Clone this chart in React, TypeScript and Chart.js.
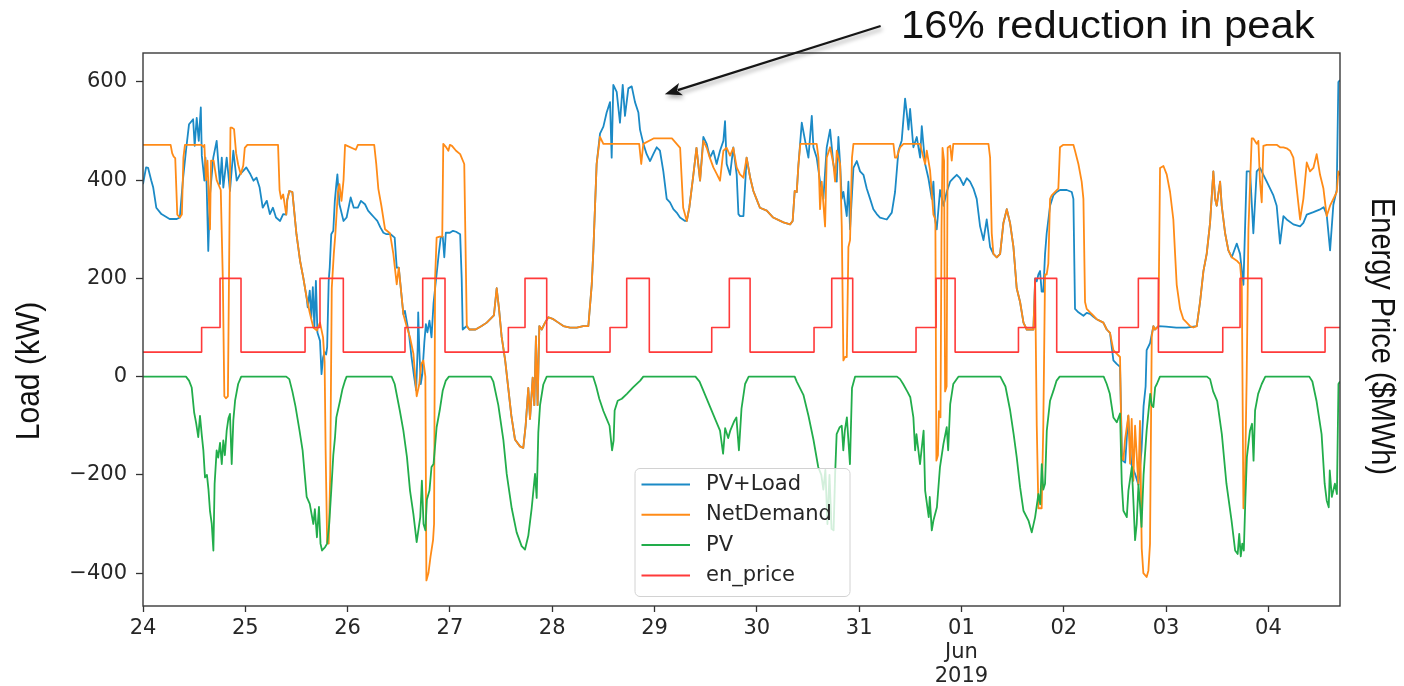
import React, { useEffect, useRef } from 'react';
import { Chart, registerables } from 'chart.js';

Chart.register(...registerables);

// ---------- data (x = days since 24 May 2019 00:00, y = kW or $/MWh) ----------
const X_TICK_LABELS = ['24', '25', '26', '27', '28', '29', '30', '31', '01', '02', '03', '04'];
const MONTH_LABEL_INDEX = 8;
const MONTH_LABEL_LINES = ['Jun', '2019'];
const X_MIN = 0;
const X_MAX = 11.7;
const Y_MIN = -467;
const Y_MAX = 659;
const Y_STEP = 200;

const SERIES_NAMES = ['PV+Load', 'NetDemand', 'PV', 'en_price'];

const PV_LOAD: [number, number][] = [
  [0.00,392],[0.03,426],[0.05,425],[0.08,400],[0.10,385],[0.13,344],[0.18,331],[0.26,321],[0.33,321],[0.36,324],
  [0.39,400],[0.42,460],[0.45,514],[0.49,524],[0.505,470],[0.525,527],[0.545,480],[0.565,548],[0.575,450],[0.59,420],
  [0.60,399],[0.61,446],[0.622,392],[0.638,256],[0.655,371],[0.687,446],[0.72,480],[0.752,392],[0.77,446],[0.785,385],
  [0.818,446],[0.85,378],[0.883,460],[0.916,399],[0.948,412],[0.98,419],[1.01,426],[1.05,412],[1.08,399],[1.11,405],
  [1.14,385],[1.17,344],[1.21,358],[1.24,331],[1.27,344],[1.30,324],[1.34,317],[1.37,331],[1.40,330],[1.41,360],
  [1.43,378],[1.46,376],[1.50,290],[1.535,236],[1.567,201],[1.60,160],[1.61,141],[1.63,175],[1.645,120],[1.66,182],
  [1.675,100],[1.69,195],[1.705,90],[1.73,73],[1.745,5],[1.76,39],[1.775,50],[1.79,45],[1.80,60],[1.815,195],
  [1.825,222],[1.84,290],[1.86,297],[1.875,358],[1.89,392],[1.90,412],[1.92,351],[1.96,317],[1.99,324],[2.03,365],
  [2.06,344],[2.10,344],[2.13,358],[2.17,351],[2.20,338],[2.23,331],[2.26,324],[2.29,317],[2.32,304],[2.35,293],
  [2.38,290],[2.42,290],[2.46,283],[2.48,222],[2.50,222],[2.545,127],[2.56,134],[2.58,110],[2.60,87],[2.625,39],
  [2.65,0],[2.67,-28],[2.685,60],[2.69,131],[2.70,60],[2.715,-15],[2.73,5],[2.75,70],[2.765,107],[2.78,90],
  [2.80,114],[2.82,80],[2.84,150],[2.87,209],[2.89,249],[2.91,283],[2.93,285],[2.945,243],[2.96,293],[3.00,293],
  [3.03,297],[3.06,295],[3.10,290],[3.115,200],[3.125,96],[3.165,103],[3.19,96],[3.25,96],[3.31,103],[3.36,110],
  [3.43,125],[3.457,180],[3.48,138],[3.505,82],[3.54,33],[3.57,-23],[3.60,-79],[3.636,-128],[3.685,-142],[3.717,-145],
  [3.74,-100],[3.766,-23],[3.783,-86],[3.809,-2],[3.825,-58],[3.841,82],[3.857,-58],[3.874,103],[3.897,96],[3.93,110],
  [3.962,121],[4.011,117],[4.06,110],[4.109,103],[4.174,100],[4.24,100],[4.303,103],[4.353,103],[4.386,187],[4.402,257],
  [4.434,433],[4.467,495],[4.50,509],[4.532,538],[4.565,559],[4.581,446],[4.597,594],[4.63,580],[4.662,517],[4.689,594],
  [4.711,531],[4.744,587],[4.777,591],[4.809,559],[4.842,538],[4.858,503],[4.891,474],[4.923,453],[4.956,439],[4.988,453],
  [5.021,467],[5.053,460],[5.086,418],[5.119,362],[5.151,355],[5.184,341],[5.216,334],[5.249,324],[5.298,317],[5.315,317],
  [5.34,344],[5.38,412],[5.41,466],[5.445,399],[5.477,488],[5.51,474],[5.542,446],[5.575,460],[5.607,433],[5.64,460],
  [5.673,480],[5.689,520],[5.705,433],[5.738,411],[5.77,467],[5.803,411],[5.82,331],[5.836,327],[5.869,327],[5.90,446],
  [5.935,405],[5.966,378],[6.00,360],[6.03,344],[6.097,338],[6.16,324],[6.26,314],[6.325,310],[6.35,317],[6.37,378],
  [6.39,376],[6.406,430],[6.439,517],[6.471,481],[6.504,446],[6.537,531],[6.553,467],[6.585,446],[6.618,397],[6.65,362],
  [6.683,467],[6.716,503],[6.748,433],[6.781,397],[6.797,488],[6.814,433],[6.83,362],[6.846,376],[6.879,327],[6.895,397],
  [6.911,300],[6.944,425],[6.977,439],[7.009,418],[7.042,411],[7.074,383],[7.107,362],[7.139,341],[7.172,331],[7.204,324],
  [7.27,320],[7.319,334],[7.351,376],[7.384,460],[7.416,481],[7.449,566],[7.465,538],[7.482,503],[7.498,545],[7.53,467],
  [7.563,488],[7.596,446],[7.612,510],[7.645,433],[7.677,404],[7.71,362],[7.726,397],[7.742,320],[7.758,300],[7.791,380],
  [7.824,348],[7.856,376],[7.889,397],[7.921,404],[7.954,411],[7.986,404],[8.019,390],[8.052,404],[8.084,397],[8.117,383],
  [8.149,362],[8.182,306],[8.215,278],[8.247,320],[8.28,264],[8.312,250],[8.345,243],[8.378,250],[8.41,313],[8.443,341],
  [8.475,313],[8.508,264],[8.54,180],[8.573,152],[8.606,110],[8.638,96],[8.703,96],[8.72,200],[8.736,194],[8.752,208],
  [8.768,215],[8.784,173],[8.80,173],[8.817,250],[8.833,292],[8.866,348],[8.898,369],[8.931,376],[8.963,380],[9.029,380],
  [9.078,376],[9.094,362],[9.11,138],[9.143,131],[9.192,124],[9.224,130],[9.257,128],[9.29,122],[9.322,117],[9.387,110],
  [9.42,96],[9.452,89],[9.485,33],[9.517,26],[9.55,20],[9.57,-170],[9.60,-175],[9.63,-80],[9.66,-178],[9.70,-200],
  [9.73,-220],[9.76,-150],[9.78,-60],[9.80,-20],[9.81,54],[9.843,68],[9.876,103],[9.892,96],[9.925,103],[10.0,102],
  [10.1,100],[10.2,100],[10.3,103],[10.332,152],[10.365,215],[10.397,250],[10.43,313],[10.462,418],[10.479,362],[10.495,348],
  [10.528,397],[10.544,348],[10.577,292],[10.609,257],[10.642,243],[10.691,271],[10.723,250],[10.756,187],[10.788,418],[10.821,418],
  [10.853,292],[10.886,418],[10.918,425],[10.951,411],[10.984,397],[11.049,369],[11.081,348],[11.114,271],[11.147,327],[11.179,320],
  [11.244,310],[11.31,306],[11.342,313],[11.375,330],[11.44,335],[11.50,340],[11.54,345],[11.57,330],[11.603,257],[11.635,350],
  [11.668,380],[11.684,600],[11.70,604],
];

const NET_DEMAND: [number, number][] = [
  [0.00,472],[0.27,472],[0.285,455],[0.30,448],[0.315,445],[0.335,330],[0.36,324],[0.38,330],[0.395,446],[0.41,472],
  [0.57,472],[0.59,468],[0.60,472],[0.615,400],[0.63,440],[0.655,300],[0.665,440],[0.69,440],[0.72,400],[0.76,380],
  [0.78,200],[0.795,-40],[0.81,-44],[0.83,-40],[0.845,300],[0.855,507],[0.87,507],[0.89,504],[0.91,455],[0.93,432],
  [0.955,412],[0.98,430],[0.995,466],[1.02,472],[1.32,472],[1.335,380],[1.35,362],[1.37,371],[1.40,330],[1.41,360],
  [1.43,378],[1.46,376],[1.50,290],[1.535,236],[1.567,201],[1.60,160],[1.63,130],[1.665,100],[1.70,94],[1.73,110],
  [1.76,80],[1.775,30],[1.785,-150],[1.80,-338],[1.815,-340],[1.83,-200],[1.845,180],[1.865,250],[1.88,290],[1.905,376],
  [1.92,392],[1.94,358],[1.96,400],[1.975,472],[2.08,462],[2.10,472],[2.26,472],[2.28,433],[2.30,383],[2.33,348],
  [2.366,300],[2.414,292],[2.447,250],[2.48,188],[2.50,222],[2.545,127],[2.58,100],[2.61,80],[2.643,47],[2.675,-40],
  [2.70,-16],[2.72,26],[2.74,33],[2.76,0],[2.77,-415],[2.79,-400],[2.81,-367],[2.835,-333],[2.845,-300],[2.855,200],
  [2.87,283],[2.90,285],[2.925,285],[2.935,474],[2.96,468],[2.985,460],[3.00,472],[3.02,470],[3.06,460],[3.10,453],
  [3.14,433],[3.165,103],[3.19,96],[3.25,96],[3.31,103],[3.36,110],[3.43,125],[3.457,180],[3.48,138],[3.505,82],
  [3.54,33],[3.57,-23],[3.60,-79],[3.636,-128],[3.685,-142],[3.717,-145],[3.74,-100],[3.766,-23],[3.783,-86],[3.809,-2],
  [3.825,-58],[3.841,82],[3.857,-58],[3.874,103],[3.897,96],[3.93,110],[3.962,121],[4.011,117],[4.06,110],[4.109,103],
  [4.174,100],[4.24,100],[4.303,103],[4.353,103],[4.386,187],[4.402,257],[4.434,433],[4.467,488],[4.50,474],[4.85,474],
  [4.87,433],[4.89,474],[4.99,485],[5.17,485],[5.25,466],[5.28,344],[5.315,317],[5.34,344],[5.38,412],[5.41,466],
  [5.445,399],[5.477,480],[5.51,466],[5.54,446],[5.575,426],[5.61,412],[5.64,399],[5.673,460],[5.705,466],[5.738,450],
  [5.77,466],[5.803,426],[5.835,412],[5.868,405],[5.90,446],[5.935,405],[5.966,378],[6.00,360],[6.03,344],[6.097,338],
  [6.16,324],[6.26,314],[6.325,310],[6.35,317],[6.37,378],[6.39,376],[6.406,430],[6.425,474],[6.585,474],[6.602,446],
  [6.618,341],[6.634,397],[6.667,306],[6.683,446],[6.716,467],[6.748,433],[6.765,397],[6.781,460],[6.814,433],[6.83,306],
  [6.846,33],[6.862,40],[6.879,40],[6.895,264],[6.911,278],[6.93,446],[6.944,474],[7.335,474],[7.35,446],[7.367,446],
  [7.40,467],[7.433,474],[7.596,474],[7.628,446],[7.645,433],[7.661,460],[7.693,420],[7.726,330],[7.745,320],[7.755,-171],
  [7.77,-160],[7.78,-70],[7.795,-83],[7.805,300],[7.815,466],[7.83,440],[7.84,-30],[7.855,-20],[7.865,466],[7.89,470],
  [7.905,440],[7.92,474],[8.264,474],[8.28,446],[8.296,292],[8.312,250],[8.345,243],[8.378,250],[8.41,313],[8.443,341],
  [8.475,313],[8.508,264],[8.54,180],[8.573,152],[8.606,110],[8.638,96],[8.703,96],[8.72,194],[8.736,-100],[8.752,-268],
  [8.784,-268],[8.80,-100],[8.817,208],[8.833,208],[8.849,230],[8.866,362],[8.882,369],[8.915,376],[8.947,383],[8.963,467],
  [8.996,472],[9.094,472],[9.11,460],[9.143,433],[9.175,397],[9.192,362],[9.208,152],[9.224,138],[9.257,131],[9.29,124],
  [9.322,117],[9.387,110],[9.42,96],[9.452,89],[9.485,54],[9.517,47],[9.55,40],[9.566,-163],[9.583,-170],[9.599,-128],
  [9.632,-79],[9.648,-177],[9.664,-86],[9.68,-212],[9.697,-100],[9.729,-220],[9.745,-90],[9.762,-350],[9.778,-400],[9.81,-408],
  [9.827,-395],[9.843,-340],[9.86,82],[9.876,103],[9.892,96],[9.925,103],[9.941,425],[9.974,429],[10.006,412],[10.039,376],
  [10.071,320],[10.088,250],[10.104,187],[10.137,138],[10.169,117],[10.202,110],[10.234,103],[10.267,100],[10.3,103],[10.332,152],
  [10.365,215],[10.397,250],[10.43,313],[10.462,418],[10.479,362],[10.495,348],[10.528,397],[10.544,348],[10.577,292],[10.609,257],
  [10.642,243],[10.691,236],[10.723,229],[10.74,187],[10.756,-268],[10.772,-200],[10.788,0],[10.805,300],[10.837,485],[10.853,485],
  [10.886,474],[10.902,480],[10.918,397],[10.935,355],[10.951,470],[10.984,472],[11.081,472],[11.114,467],[11.147,467],[11.179,465],
  [11.212,460],[11.244,446],[11.277,383],[11.31,320],[11.342,362],[11.375,436],[11.407,418],[11.44,425],[11.472,453],[11.505,411],
  [11.538,383],[11.57,327],[11.603,348],[11.635,362],[11.668,376],[11.684,418],[11.70,410],
];

const PV: [number, number][] = [
  [0,0],[0.42,0],[0.45,-8],[0.476,-22],[0.50,-73],[0.52,-95],[0.54,-123],[0.557,-80],[0.575,-120],[0.59,-150],
  [0.606,-205],[0.625,-200],[0.64,-230],[0.655,-274],[0.672,-300],[0.688,-354],[0.70,-218],[0.72,-150],[0.735,-165],[0.753,-135],
  [0.77,-178],[0.785,-130],[0.80,-160],[0.818,-110],[0.835,-85],[0.85,-76],[0.867,-178],[0.883,-89],[0.90,-49],[0.93,-15],
  [0.96,0],
  [1.40,0],[1.43,-5],[1.46,-30],[1.49,-60],[1.53,-110],[1.56,-150],[1.60,-245],[1.63,-259],[1.665,-300],[1.68,-270],
  [1.70,-327],[1.72,-265],[1.735,-340],[1.75,-354],[1.78,-347],[1.80,-340],[1.82,-300],[1.84,-232],[1.86,-160],[1.877,-123],
  [1.89,-83],[1.926,-49],[1.95,-25],[1.975,-8],[1.99,0],
  [2.43,0],[2.46,-15],[2.51,-69],[2.545,-110],[2.58,-164],[2.61,-232],[2.643,-280],[2.675,-337],[2.71,-286],[2.726,-212],
  [2.742,-300],[2.76,-313],[2.775,-250],[2.80,-232],[2.82,-184],[2.84,-178],[2.87,-103],[2.90,-69],[2.93,-28],[2.96,-8],
  [2.99,0],
  [3.40,0],[3.424,-10],[3.473,-58],[3.522,-128],[3.555,-198],[3.604,-268],[3.652,-317],[3.701,-345],[3.734,-352],[3.766,-324],
  [3.799,-268],[3.832,-198],[3.848,-247],[3.864,-114],[3.881,-58],[3.913,-16],[3.946,0],
  [4.40,0],[4.43,-20],[4.46,-45],[4.50,-70],[4.53,-85],[4.56,-100],[4.585,-150],[4.60,-130],[4.61,-69],[4.64,-49],
  [4.68,-45],[4.73,-35],[4.79,-22],[4.86,-8],[4.89,0],
  [5.40,0],[5.44,-10],[5.48,-30],[5.54,-60],[5.60,-90],[5.64,-110],[5.67,-157],[5.69,-105],[5.72,-125],[5.74,-110],
  [5.78,-90],[5.80,-83],[5.825,-150],[5.85,-65],[5.885,-15],[5.92,0],
  [6.37,0],[6.39,-10],[6.455,-37],[6.504,-79],[6.553,-128],[6.60,-184],[6.63,-200],[6.65,-230],[6.67,-190],[6.69,-300],
  [6.71,-200],[6.73,-310],[6.75,-313],[6.765,-200],[6.78,-117],[6.81,-103],[6.83,-100],[6.845,-150],[6.86,-110],[6.88,-83],
  [6.91,-178],[6.93,-23],[6.96,0],
  [7.37,0],[7.40,-5],[7.43,-15],[7.47,-30],[7.50,-42],[7.53,-83],[7.547,-150],[7.56,-117],[7.595,-178],[7.63,-110],
  [7.645,-232],[7.68,-286],[7.69,-245],[7.71,-313],[7.726,-293],[7.76,-266],[7.79,-184],[7.824,-137],[7.856,-103],[7.87,-150],
  [7.89,-56],[7.92,-15],[7.97,0],
  [8.38,0],[8.43,-20],[8.476,-69],[8.51,-117],[8.54,-164],[8.573,-225],[8.606,-273],[8.655,-293],[8.687,-317],[8.72,-286],
  [8.752,-239],[8.77,-260],[8.785,-178],[8.80,-230],[8.817,-218],[8.834,-110],[8.866,-49],[8.90,-28],[8.93,-8],[8.96,0],
  [9.39,0],[9.42,-15],[9.45,-35],[9.485,-83],[9.518,-93],[9.55,-75],[9.567,-218],[9.583,-273],[9.616,-286],[9.632,-232],
  [9.665,-184],[9.68,-250],[9.697,-333],[9.713,-300],[9.73,-220],[9.745,-260],[9.76,-306],[9.78,-200],[9.81,-110],[9.845,-35],
  [9.86,-58],[9.876,-62],[9.893,-22],[9.91,-15],[9.94,0],
  [10.40,0],[10.43,-5],[10.46,-30],[10.50,-50],[10.545,-117],[10.59,-218],[10.64,-293],[10.675,-354],[10.70,-361],[10.715,-320],
  [10.73,-366],[10.745,-340],[10.76,-354],[10.775,-250],[10.79,-164],[10.82,-110],[10.84,-96],[10.855,-171],[10.87,-69],[10.90,-35],
  [10.935,-15],[10.97,0],
  [11.40,0],[11.43,-10],[11.47,-49],[11.52,-117],[11.55,-218],[11.57,-252],[11.59,-266],[11.60,-191],[11.62,-245],[11.65,-218],
  [11.67,-239],[11.685,-15],[11.70,-10],
];

// energy price: [time the price changes, new price]
const EN_PRICE: [number, number][] = [
  [0,50],[0.573,100],[0.753,200],[0.958,50],[1.584,100],[1.73,200],[1.958,50],[2.561,100],[2.734,200],[2.952,50],
  [3.571,100],[3.734,200],[3.946,50],[4.565,100],[4.728,200],[4.949,50],[5.559,100],[5.731,200],[5.934,50],[6.559,100],
  [6.732,200],[6.937,50],[7.556,100],[7.752,200],[7.938,50],[8.557,100],[8.72,200],[8.931,50],[9.54,100],[9.729,200],
  [9.925,50],[10.554,100],[10.723,200],[10.935,50],[11.554,100],[11.70,100],
];

const ANNOTATION = {
  text: '16% reduction in peak',
  tipDay: 5.10, tipKW: 575,
  tailDay: 7.21, tailKW: 714,
  textDay: 7.41, textKW: 690,
};

const LEFT_TITLE = 'Load (kW)';
const RIGHT_TITLE = 'Energy Price ($MWh)';

// ---------- styling ----------
const COLORS = ['#1b8ac6', '#ff8b17', '#22ad4b', '#ff3a3a'];
const TICK_FONT = { family: '"DejaVu Sans", sans-serif', size: 21, lineHeight: 1.15 };
const TEXT_COLOR = '#262626';

const toXY = (arr: [number, number][]) => arr.map(([x, y]) => ({ x, y }));

function roundRectPath(ctx: CanvasRenderingContext2D, x: number, y: number, w: number, h: number, r: number) {
  ctx.beginPath();
  ctx.moveTo(x + r, y);
  ctx.lineTo(x + w - r, y);
  ctx.arcTo(x + w, y, x + w, y + r, r);
  ctx.lineTo(x + w, y + h - r);
  ctx.arcTo(x + w, y + h, x + w - r, y + h, r);
  ctx.lineTo(x + r, y + h);
  ctx.arcTo(x, y + h, x, y + h - r, r);
  ctx.lineTo(x, y + r);
  ctx.arcTo(x, y, x + r, y, r);
  ctx.closePath();
}

const overlayPlugin = {
  id: 'overlay',
  afterDraw(chart: any) {
    const { ctx, chartArea: a, scales } = chart;
    const xs = scales.x;
    const ys = scales.y;
    ctx.save();

    // frame (all four spines)
    ctx.strokeStyle = '#3a3a3a';
    ctx.lineWidth = 1.4;
    ctx.strokeRect(a.left, a.top, a.right - a.left, a.bottom - a.top);

    // legend
    const lx = a.left + 492;
    const ly = a.top + 415.5;
    const lw = 215;
    const lh = 128;
    roundRectPath(ctx, lx, ly, lw, lh, 5);
    ctx.fillStyle = 'rgba(255,255,255,0.8)';
    ctx.fill();
    ctx.strokeStyle = '#d2d2d2';
    ctx.lineWidth = 1;
    ctx.stroke();
    ctx.font = '21px "DejaVu Sans", sans-serif';
    ctx.textAlign = 'left';
    ctx.textBaseline = 'middle';
    chart.data.datasets.forEach((ds: any, i: number) => {
      const y = ly + 16 + i * 30.3;
      ctx.strokeStyle = ds.borderColor;
      ctx.lineWidth = 2;
      ctx.beginPath();
      ctx.moveTo(lx + 6.5, y);
      ctx.lineTo(lx + 55, y);
      ctx.stroke();
      ctx.fillStyle = TEXT_COLOR;
      ctx.fillText(ds.label, lx + 71, y);
    });

    // axis titles
    const midY = (a.top + a.bottom) / 2;
    ctx.fillStyle = '#111';
    ctx.textAlign = 'center';
    ctx.textBaseline = 'alphabetic';
    ctx.font = '30px "Liberation Sans", Arial, sans-serif';
    ctx.save();
    ctx.translate(a.left - 104, midY + 41.5);
    ctx.scale(1.12, 1);
    ctx.rotate(-Math.PI / 2);
    ctx.fillText(LEFT_TITLE, 0, 0);
    ctx.restore();
    ctx.font = '29px "Liberation Sans", Arial, sans-serif';
    ctx.save();
    ctx.translate(a.right + 32, midY + 7);
    ctx.scale(1.12, 1);
    ctx.rotate(Math.PI / 2);
    ctx.fillText(RIGHT_TITLE, 0, 0);
    ctx.restore();

    // annotation arrow
    const tipX = xs.getPixelForValue(ANNOTATION.tipDay);
    const tipY = ys.getPixelForValue(ANNOTATION.tipKW);
    const tailX = xs.getPixelForValue(ANNOTATION.tailDay);
    const tailY = ys.getPixelForValue(ANNOTATION.tailKW);
    const ang = Math.atan2(tipY - tailY, tipX - tailX);
    const headLen = 17;
    const headHalf = 6.5;
    const c = Math.cos(ang);
    const s = Math.sin(ang);
    ctx.save();
    ctx.shadowColor = 'rgba(0,0,0,0.35)';
    ctx.shadowBlur = 4;
    ctx.shadowOffsetX = 1.5;
    ctx.shadowOffsetY = 3;
    ctx.strokeStyle = '#161616';
    ctx.fillStyle = '#161616';
    ctx.lineWidth = 2.2;
    ctx.beginPath();
    ctx.moveTo(tailX, tailY);
    ctx.lineTo(tipX - c * headLen * 0.8, tipY - s * headLen * 0.8);
    ctx.stroke();
    ctx.beginPath();
    ctx.moveTo(tipX, tipY);
    ctx.lineTo(tipX - headLen * c + headHalf * s, tipY - headLen * s - headHalf * c);
    ctx.lineTo(tipX - headLen * 0.75 * c, tipY - headLen * 0.75 * s);
    ctx.lineTo(tipX - headLen * c - headHalf * s, tipY - headLen * s + headHalf * c);
    ctx.closePath();
    ctx.fill();
    ctx.restore();

    // annotation text
    ctx.font = '38px "Liberation Sans", Arial, sans-serif';
    ctx.fillStyle = '#111';
    ctx.textAlign = 'left';
    ctx.textBaseline = 'alphabetic';
    ctx.save();
    ctx.translate(xs.getPixelForValue(ANNOTATION.textDay), ys.getPixelForValue(ANNOTATION.textKW));
    ctx.scale(1.1, 1);
    ctx.fillText(ANNOTATION.text, 0, 0);
    ctx.restore();

    ctx.restore();
  },
};

export default function App() {
  const canvasRef = useRef<HTMLCanvasElement | null>(null);

  useEffect(() => {
    const canvas = canvasRef.current;
    if (!canvas) return;
    const seriesData = [PV_LOAD, NET_DEMAND, PV, EN_PRICE];
    const drawOrder = [3, 2, 1, 0];
    const chart = new Chart(canvas, {
      type: 'line',
      data: {
        datasets: seriesData.map((arr, i) => ({
          label: SERIES_NAMES[i],
          data: toXY(arr),
          borderColor: COLORS[i],
          backgroundColor: COLORS[i],
          borderWidth: i === 3 ? 1.6 : 1.8,
          pointRadius: 0,
          tension: 0,
          fill: false,
          borderJoinStyle: 'round',
          stepped: i === 3 ? 'before' : false,
          order: drawOrder[i],
        })),
      },
      options: {
        responsive: false,
        animation: false,
        events: [],
        layout: { padding: { left: 0, right: 64, top: 53, bottom: 0 } },
        plugins: {
          legend: { display: false },
          tooltip: { enabled: false },
          title: { display: false },
        },
        scales: {
          x: {
            type: 'linear',
            min: X_MIN,
            max: X_MAX,
            afterFit: (scale: any) => { scale.height = 80; },
            border: { display: false },
            grid: {
              display: true,
              drawOnChartArea: false,
              drawTicks: true,
              tickLength: 6,
              tickColor: '#333',
              tickWidth: 1.3,
            },
            ticks: {
              stepSize: 1,
              includeBounds: false,
              autoSkip: false,
              maxRotation: 0,
              minRotation: 0,
              padding: 4,
              color: TEXT_COLOR,
              font: TICK_FONT,
              callback: (value: any) => {
                const i = Math.round(Number(value));
                const lab = X_TICK_LABELS[i] ?? '';
                return i === MONTH_LABEL_INDEX ? [lab, ...MONTH_LABEL_LINES] : lab;
              },
            },
          },
          y: {
            type: 'linear',
            min: Y_MIN,
            max: Y_MAX,
            afterFit: (scale: any) => { scale.width = 143; },
            border: { display: false },
            grid: {
              display: true,
              drawOnChartArea: false,
              drawTicks: true,
              tickLength: 7,
              tickColor: '#333',
              tickWidth: 1.3,
            },
            ticks: {
              stepSize: Y_STEP,
              includeBounds: false,
              padding: 9,
              color: TEXT_COLOR,
              font: TICK_FONT,
              callback: (value: any) => {
                const v = Number(value);
                return v < 0 ? '\u2212' + Math.abs(v) : String(v);
              },
            },
          },
        },
      } as any,
      plugins: [overlayPlugin],
    } as any);
    return () => chart.destroy();
  }, []);

  return (
    <div style={{ position: 'absolute', left: 0, top: 0, width: 1404, height: 686, background: '#fff' }}>
      <canvas ref={canvasRef} width={1404} height={686} style={{ display: 'block' }} />
    </div>
  );
}
